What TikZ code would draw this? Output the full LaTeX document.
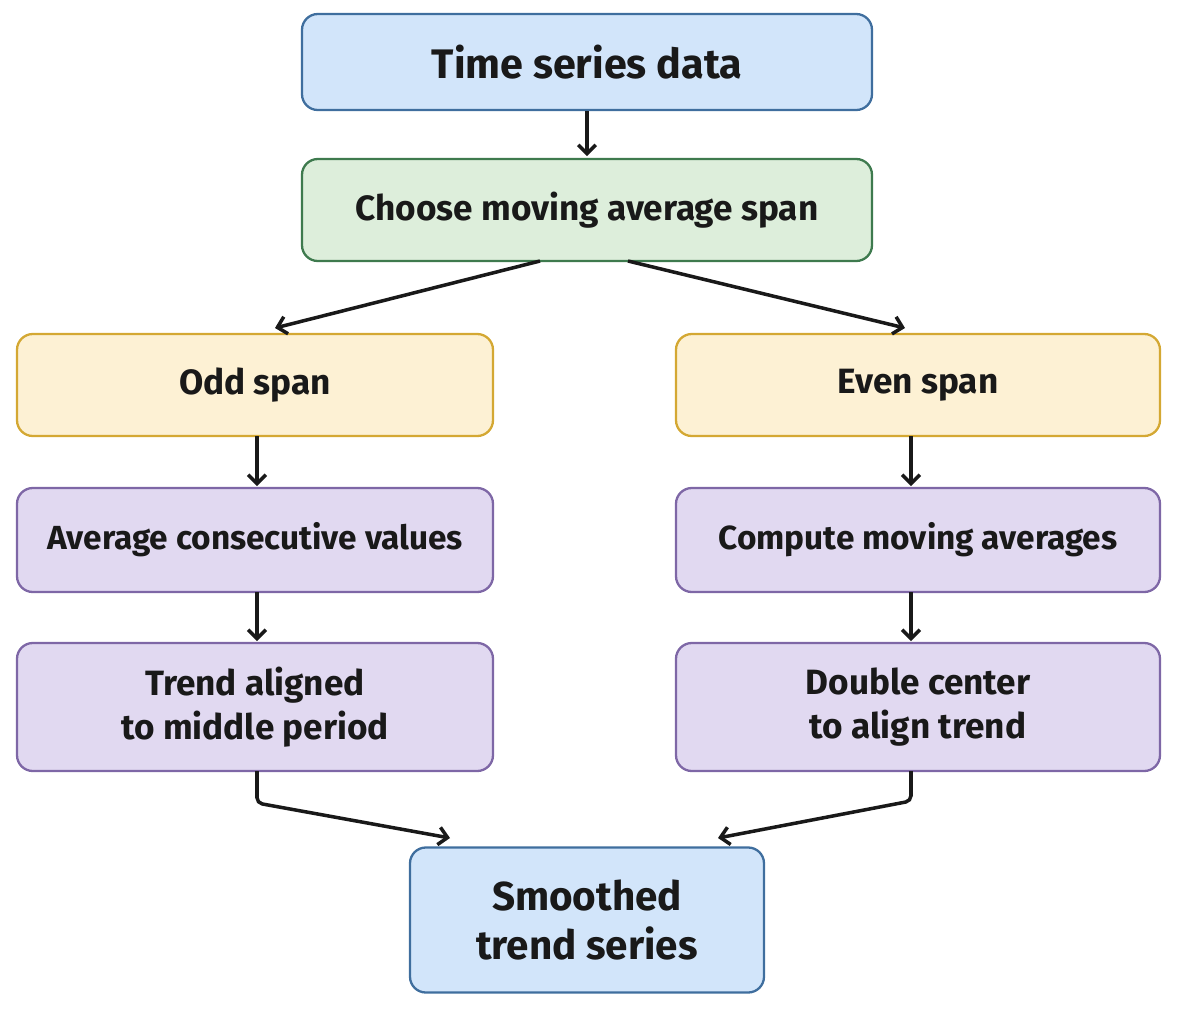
\documentclass[tikz,border=0pt]{standalone}
\usepackage{fontspec}
\setmainfont{Fira Sans}
\usetikzlibrary{arrows.meta}
\definecolor{bfill}{HTML}{D2E5FA}\definecolor{bdraw}{HTML}{3F6E9E}
\definecolor{gfill}{HTML}{DDEEDB}\definecolor{gdraw}{HTML}{3E7A4E}
\definecolor{yfill}{HTML}{FDF1D4}\definecolor{ydraw}{HTML}{D4A833}
\definecolor{pfill}{HTML}{E1D9F1}\definecolor{pdraw}{HTML}{7E67A6}
\begin{document}
\begin{tikzpicture}[x=0.02cm,y=-0.02cm,
box/.style={draw,line width=1.3pt,rounded corners=9pt,align=center,inner sep=0pt,text=black!90,font=\fontsize{20}{24}\selectfont\bfseries},
blue/.style={box,fill=bfill,draw=bdraw},
green/.style={box,fill=gfill,draw=gdraw},
yel/.style={box,fill=yfill,draw=ydraw},
pur/.style={box,fill=pfill,draw=pdraw},
arr/.style={-{Straight Barb[length=5pt,width=10pt]},line width=2pt,black!90}]
\useasboundingbox (0,0) rectangle (1178,1012);
\node[blue,minimum width=570*0.02cm,minimum height=96*0.02cm,font=\fontsize{23.5}{28}\selectfont\bfseries] (t) at (587,62) {Time series data};
\node[green,minimum width=570*0.02cm,minimum height=102*0.02cm] (c) at (587,210) {Choose moving average span};
\node[yel,minimum width=476*0.02cm,minimum height=102*0.02cm] (o) at (255,385) {Odd span};
\node[yel,minimum width=484*0.02cm,minimum height=102*0.02cm] (e) at (918,385) {Even span};
\node[pur,minimum width=476*0.02cm,minimum height=104*0.02cm,font=\fontsize{19}{23}\selectfont\bfseries] (a) at (255,540) {Average consecutive values};
\node[pur,minimum width=484*0.02cm,minimum height=104*0.02cm,font=\fontsize{19}{23}\selectfont\bfseries] (m) at (918,540) {Compute moving averages};
\node[pur,minimum width=476*0.02cm,minimum height=128*0.02cm,font=\fontsize{20}{25}\selectfont\bfseries] (tr) at (255,707) {Trend aligned\\to middle period};
\node[pur,minimum width=484*0.02cm,minimum height=128*0.02cm,font=\fontsize{20}{25}\selectfont\bfseries] (d) at (918,707) {Double center\\to align trend};
\node[blue,minimum width=354*0.02cm,minimum height=145*0.02cm,font=\fontsize{23}{28}\selectfont\bfseries] (s) at (587,920) {Smoothed\\trend series};
\coordinate (c1) at (540,261);\coordinate (c2) at (628,261);
\coordinate (o1) at (275,328);\coordinate (e1) at (905,328);
\draw[arr] (t.south) -- ([yshift=1pt]c.north);
\draw[arr] (c1) -- (o1);
\draw[arr] (c2) -- (e1);
\coordinate (oa) at (257,436);\coordinate (ob) at (257,486);
\coordinate (ea) at (911,436);\coordinate (eb) at (911,486);
\draw[arr] (oa) -- (ob);\draw[arr] (ea) -- (eb);
\coordinate (aa) at (257,592);\coordinate (ab) at (257,641);
\coordinate (ma) at (911,592);\coordinate (mb) at (911,641);
\draw[arr] (aa) -- (ab);\draw[arr] (ma) -- (mb);
\coordinate (ta) at (257,771);\coordinate (tb) at (257,803);\coordinate (s1) at (450,838);
\coordinate (da) at (911,771);\coordinate (db) at (911,801);\coordinate (s2) at (718,838);
\draw[arr,rounded corners=3pt] (ta) -- (tb) -- (s1);
\draw[arr,rounded corners=3pt] (da) -- (db) -- (s2);
\end{tikzpicture}
\end{document}
